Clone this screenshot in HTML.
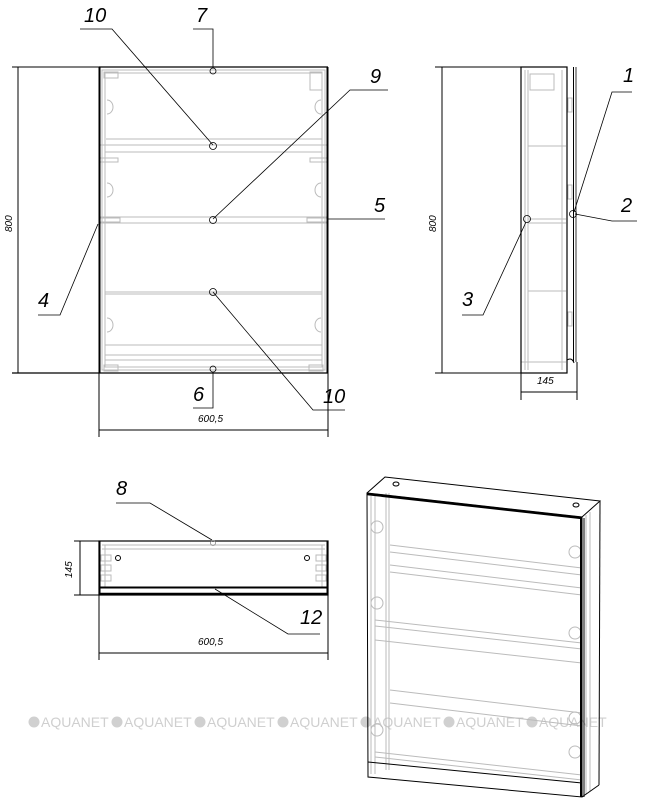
<!DOCTYPE html>
<html><head><meta charset="utf-8"><style>
html,body{margin:0;padding:0;background:#fff;}
svg{display:block}
text{font-family:"Liberation Sans",sans-serif;font-style:italic;fill:#000}
</style></head><body>
<svg width="645" height="810" viewBox="0 0 645 810" xmlns="http://www.w3.org/2000/svg">
<!-- watermarks -->
<g font-size="14">
<g><circle cx="34" cy="722" r="5.5" fill="#d0d0d0"/><text x="41" y="727" style="font-style:normal;fill:#cfcfcf">AQUANET</text></g>
<g><circle cx="117" cy="722" r="5.5" fill="#d0d0d0"/><text x="124" y="727" style="font-style:normal;fill:#cfcfcf">AQUANET</text></g>
<g><circle cx="200" cy="722" r="5.5" fill="#d0d0d0"/><text x="207" y="727" style="font-style:normal;fill:#cfcfcf">AQUANET</text></g>
<g><circle cx="283" cy="722" r="5.5" fill="#d0d0d0"/><text x="290" y="727" style="font-style:normal;fill:#cfcfcf">AQUANET</text></g>
<g><circle cx="366" cy="722" r="5.5" fill="#d0d0d0"/><text x="373" y="727" style="font-style:normal;fill:#cfcfcf">AQUANET</text></g>
<g><circle cx="449" cy="722" r="5.5" fill="#d0d0d0"/><text x="456" y="727" style="font-style:normal;fill:#cfcfcf">AQUANET</text></g>
<g><circle cx="532" cy="722" r="5.5" fill="#d0d0d0"/><text x="539" y="727" style="font-style:normal;fill:#cfcfcf">AQUANET</text></g>
</g>

<!-- FRONT VIEW -->
<g fill="none" stroke="#bbb" stroke-width="1">
<rect x="102" y="70" width="223" height="300"/>
<rect x="105" y="73" width="217" height="294"/>
<line x1="106" y1="139" x2="322" y2="139"/><line x1="100" y1="145" x2="327" y2="145"/>
<line x1="105" y1="152" x2="322" y2="152"/>
<line x1="100" y1="217" x2="327" y2="217"/><line x1="100" y1="223" x2="327" y2="223"/>
<line x1="105" y1="292" x2="322" y2="292"/><line x1="105" y1="294" x2="322" y2="294"/>
<line x1="105" y1="345" x2="322" y2="345"/><line x1="105" y1="355" x2="322" y2="355"/><line x1="105" y1="360" x2="322" y2="360"/>
<path d="M107 100 a6 7 0 0 1 0 14 M107 183 a6 7 0 0 1 0 14 M107 318 a6 7 0 0 1 0 14"/>
<path d="M321 100 a6 7 0 0 0 0 14 M321 183 a6 7 0 0 0 0 14 M321 318 a6 7 0 0 0 0 14"/>
<rect x="100" y="158" width="18" height="4"/><rect x="310" y="158" width="18" height="4"/>
<rect x="100" y="218" width="20" height="4"/><rect x="307" y="218" width="20" height="4"/>
<rect x="310" y="72" width="12" height="18"/><rect x="104" y="72" width="14" height="6"/>
<rect x="104" y="365" width="14" height="6"/><rect x="309" y="365" width="14" height="6"/>
</g>
<g fill="none" stroke="#000">
<line x1="99" y1="67" x2="328" y2="67" stroke-width="1.2"/>
<line x1="99.5" y1="67" x2="99.5" y2="373" stroke-width="2"/>
<line x1="327.5" y1="67" x2="327.5" y2="373" stroke-width="2"/>
<line x1="12" y1="373" x2="328" y2="373" stroke-width="1.2"/>
<line x1="12" y1="67" x2="99" y2="67"/>
<line x1="18" y1="67" x2="18" y2="373"/>
<line x1="99" y1="373" x2="99" y2="437"/><line x1="328" y1="373" x2="328" y2="437"/>
<line x1="99" y1="430" x2="328" y2="430"/>
<g stroke-width="0.8">
<circle cx="213" cy="71" r="3"/><circle cx="213" cy="146" r="3.5"/><circle cx="213" cy="220" r="3.5"/><circle cx="213" cy="292" r="3.5"/><circle cx="213" cy="369" r="3"/>
<polyline points="80,29 112,29 213,145"/>
<polyline points="193,29 213,29 213,68"/>
<polyline points="388,90 350,90 213,219"/>
<polyline points="385,219 328,219"/>
<polyline points="38,315 60,315 98,224"/>
<polyline points="193,408 213,408 213,372"/>
<polyline points="345,410 313,410 213,292"/>
</g>
</g>
<text x="84" y="22" font-size="20">10</text>
<text x="196" y="22" font-size="20">7</text>
<text x="370" y="83" font-size="20">9</text>
<text x="374" y="212" font-size="20">5</text>
<text x="38" y="307" font-size="20">4</text>
<text x="193" y="401" font-size="20">6</text>
<text x="323" y="403" font-size="20">10</text>
<text x="198" y="422" font-size="10">600,5</text>
<text font-size="10" transform="translate(12,232) rotate(-90)">800</text>

<!-- SIDE VIEW -->
<g fill="none" stroke="#bbb">
<line x1="525" y1="70" x2="525" y2="370"/><line x1="528" y1="70" x2="528" y2="370"/>
<line x1="562" y1="70" x2="562" y2="370"/>
<line x1="528" y1="146" x2="566" y2="146"/><line x1="528" y1="219" x2="566" y2="219"/><line x1="528" y1="223" x2="566" y2="223"/>
<line x1="528" y1="291" x2="566" y2="291"/>
<rect x="530" y="74" width="24" height="16"/>
<rect x="568" y="98" width="4" height="14"/><rect x="568" y="185" width="4" height="14"/><rect x="568" y="312" width="4" height="14"/>
<line x1="521" y1="362" x2="566" y2="362"/>
</g>
<g fill="none" stroke="#000">
<rect x="521" y="67" width="46" height="306" stroke-width="1.2"/>
<line x1="573.5" y1="67" x2="573.5" y2="362"/><line x1="576" y1="67" x2="576" y2="362" stroke-width="0.8"/>
<path d="M567 360 q5 -3 7 3"/>
<line x1="435" y1="67" x2="521" y2="67"/><line x1="435" y1="373" x2="521" y2="373"/>
<line x1="442" y1="67" x2="442" y2="373"/>
<line x1="521" y1="373" x2="521" y2="400"/><line x1="577" y1="362" x2="577" y2="400"/>
<line x1="521" y1="392" x2="577" y2="392"/>
<g stroke-width="0.8">
<circle cx="527" cy="219" r="3.5"/><circle cx="573" cy="214" r="3.5"/>
<polyline points="632,92 612,92 574,212"/>
<polyline points="637,221 612,221 575,214"/>
<polyline points="462,315 483,315 526,222"/>
</g>
</g>
<text x="623" y="82" font-size="20">1</text>
<text x="621" y="212" font-size="20">2</text>
<text x="462" y="306" font-size="20">3</text>
<text x="537" y="384" font-size="10">145</text>
<text font-size="10" transform="translate(436,232) rotate(-90)">800</text>

<!-- TOP VIEW -->
<g fill="none" stroke="#bbb">
<line x1="102" y1="545" x2="325" y2="545"/><line x1="102" y1="549" x2="325" y2="549"/>
<line x1="105" y1="545" x2="105" y2="587"/><line x1="322" y1="545" x2="322" y2="587"/>
<rect x="101" y="555" width="10" height="6"/><rect x="101" y="565" width="10" height="6"/><rect x="101" y="575" width="10" height="6"/>
<rect x="316" y="555" width="10" height="6"/><rect x="316" y="565" width="10" height="6"/><rect x="316" y="575" width="10" height="6"/>
</g>
<g fill="none" stroke="#000">
<rect x="99" y="541" width="229" height="54" stroke-width="1.2"/>
<line x1="99" y1="587.5" x2="328" y2="587.5" stroke-width="2"/>
<line x1="99" y1="594" x2="328" y2="594" stroke-width="2.5"/>
<line x1="99.5" y1="541" x2="99.5" y2="595" stroke-width="2"/>
<line x1="327.5" y1="541" x2="327.5" y2="595" stroke-width="2"/>
<circle cx="118" cy="558" r="2.5"/><circle cx="307" cy="558" r="2.5"/>
<line x1="74" y1="541" x2="99" y2="541"/><line x1="74" y1="595" x2="99" y2="595"/>
<line x1="80" y1="541" x2="80" y2="595"/>
<line x1="99" y1="595" x2="99" y2="660"/><line x1="328" y1="595" x2="328" y2="660"/>
<line x1="99" y1="653" x2="328" y2="653"/>
<g stroke-width="0.8">
<circle cx="213" cy="543" r="2.5" stroke="#888"/>
<polyline points="116,503 150,503 212,540"/>
<polyline points="320,634 288,634 215,589"/>
</g>
</g>
<text x="116" y="495" font-size="20">8</text>
<text x="300" y="624" font-size="20">12</text>
<text x="198" y="645" font-size="10">600,5</text>
<text font-size="10" transform="translate(72,578) rotate(-90)">145</text>

<!-- ISO VIEW -->
<g fill="none" stroke="#bbb">
<polyline points="371,496 371,774"/><polyline points="375,496 375,774"/>
<polyline points="386,493 386,770"/><polyline points="389,493 389,770"/>
<line x1="390" y1="545" x2="582" y2="568"/><line x1="390" y1="552" x2="582" y2="575"/>
<line x1="390" y1="565" x2="582" y2="588"/><line x1="390" y1="572" x2="582" y2="595"/>
<line x1="375" y1="620" x2="582" y2="643"/><line x1="375" y1="626" x2="582" y2="649"/>
<line x1="375" y1="640" x2="582" y2="663"/>
<line x1="390" y1="690" x2="582" y2="713"/><line x1="390" y1="703" x2="582" y2="726"/>
<line x1="375" y1="752" x2="582" y2="775"/><line x1="375" y1="757" x2="582" y2="780"/>
<circle cx="377" cy="527" r="6"/><circle cx="377" cy="603" r="6"/><circle cx="377" cy="730" r="6"/>
<circle cx="575" cy="552" r="6"/><circle cx="575" cy="633" r="6"/><circle cx="575" cy="718" r="6"/><circle cx="575" cy="752" r="6"/>
<line x1="586" y1="515" x2="586" y2="794"/><line x1="590" y1="512" x2="590" y2="791"/>
</g>
<g fill="none" stroke="#000">
<polygon points="367,493 582,517 582,797 368,777" stroke-width="1"/>
<line x1="367" y1="494" x2="582" y2="518" stroke-width="2.5"/>
<polyline points="367,493 385,477 600,501 582,517"/>
<line x1="600" y1="501" x2="599" y2="785"/>
<line x1="582" y1="797" x2="599" y2="785"/>
<line x1="368" y1="762" x2="582" y2="783"/>
<line x1="581" y1="518" x2="581" y2="797" stroke-width="2"/>
<line x1="584" y1="518" x2="584" y2="797"/>
<ellipse cx="396" cy="484" rx="3" ry="2"/><ellipse cx="576" cy="505" rx="3" ry="2"/>
</g>
</svg>
</body></html>
